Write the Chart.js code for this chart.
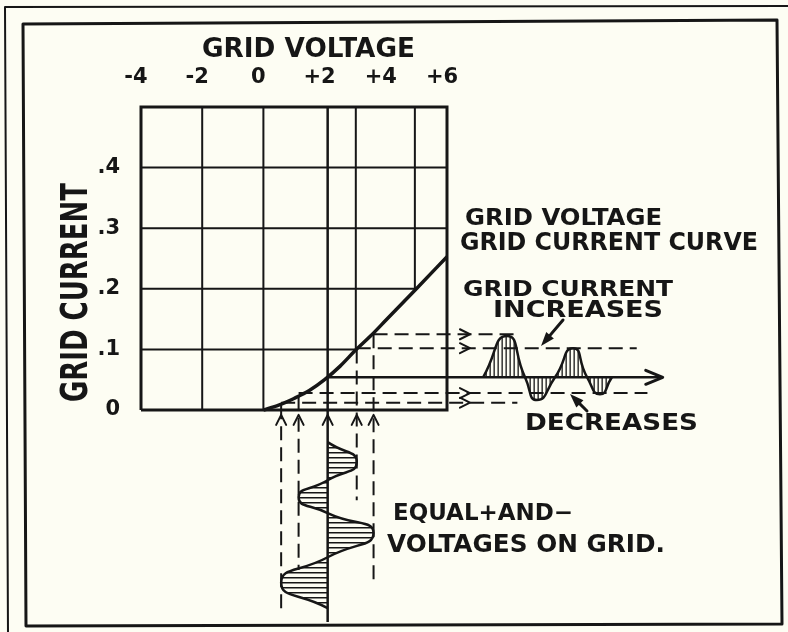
<!DOCTYPE html>
<html>
<head>
<meta charset="utf-8">
<title>Grid Voltage - Grid Current Curve</title>
<script src="https://cdn.jsdelivr.net/npm/chart.js@4.4.1/dist/chart.umd.min.js"></script>
<style>
    html, body { margin:0; padding:0; background:#fdfdf3; }
    #chartContainer { width:788px; height:632px; }
</style>
</head>
<body>
<div id="chartContainer"><canvas id="gridChart" width="788" height="632"></canvas></div>
<script>
// grid volts along x, grid current along y
const voltTicks = [-4, -2, 0, 2, 4, 6];
const currentTicks = [0, 0.1, 0.2, 0.3, 0.4, 0.5];

const curveVolts = [0, 0.5, 1, 1.5, 2, 2.5, 3, 3.5, 4, 5, 6];
const curveCurrent = [0, 0.008, 0.019, 0.032, 0.05, 0.072, 0.098, 0.122, 0.148, 0.2, 0.253];

// inner rules of the grid stop where they meet the curve
const ruleVolts = [-2, 0, 3.02, 4.95];
const ruleVoltsFrom = [0, 0, 0.099, 0.2];
const ruleCurrents = [0.1, 0.2, 0.3, 0.4];
const ruleCurrentsTo = [3.05, 5, 6, 6];

// operating point
const biasVolts = 2.1;
const biasCurrent = 0.054;
const signalAxisEnd = -0.35;
const currentAxisEnd = 13.05;

// signal on the grid, drawn downwards under the bias line
const signalVolts = [2.1, 3.05, 2.1, 1.15, 2.1, 3.6, 2.1, 0.58, 2.1];
const signalTime = [-0.053, -0.086, -0.116, -0.144, -0.17, -0.203, -0.243, -0.285, -0.327];

// grid current wave, drawn to the right
const waveTime = [7.18, 7.96, 8.55, 8.94, 9.53, 10.12, 10.58, 11.0, 11.39];
const waveCurrent = [0.054, 0.122, 0.054, 0.0165, 0.054, 0.102, 0.054, 0.026, 0.054];

// dashed projections: signal peaks up to the curve, curve across to the wave
const dropVolts = [0.58, 1.15, 3.05, 3.6];
const dropTop = [0.008, 0.022, 0.1, 0.125];
const dropBottom = [-0.338, -0.264, -0.149, -0.284];
const acrossCurrent = [0.125, 0.102, 0.028, 0.012];
const acrossFrom = [3.6, 3.05, 1.15, 0.58];
const acrossTo = [8.4, 12.2, 12.55, 8.3];

const ink = '#161616';
const fontFamily = '"DejaVu Sans", sans-serif';

document.addEventListener('DOMContentLoaded', createChart);

function pointsOf(xs, ys){
    return xs.map((x, i) => ({x: x, y: ys[i]}));
}

// list of [x1, y1, x2, y2] -> one broken polyline
function segmentsOf(list){
    let pts = [];
    list.forEach(s => {
        pts.push({x: s[0], y: s[1]}, {x: s[2], y: s[3]}, {x: null, y: null});
    });
    return pts;
}

function frameData(){
    let x0 = voltTicks[0], x1 = voltTicks[voltTicks.length - 1];
    let y0 = currentTicks[0], y1 = currentTicks[currentTicks.length - 1];
    return [{x: x0, y: y0}, {x: x1, y: y0}, {x: x1, y: y1}, {x: x0, y: y1}, {x: x0, y: y0}];
}

function rulesData(){
    let top = currentTicks[currentTicks.length - 1];
    let list = [];
    ruleVolts.forEach((v, i) => list.push([v, ruleVoltsFrom[i], v, top]));
    ruleCurrents.forEach((c, i) => list.push([voltTicks[0], c, ruleCurrentsTo[i], c]));
    return segmentsOf(list);
}

function biasData(){
    let top = currentTicks[currentTicks.length - 1];
    return segmentsOf([
        [biasVolts, top, biasVolts, signalAxisEnd],
        [biasVolts, biasCurrent, currentAxisEnd, biasCurrent]
    ]);
}

function projectionData(){
    let list = [];
    dropVolts.forEach((v, i) => list.push([v, dropTop[i], v, dropBottom[i]]));
    acrossCurrent.forEach((c, i) => list.push([acrossFrom[i], c, acrossTo[i], c]));
    return segmentsOf(list);
}

function createHatch(ctx, direction){
    let c = document.createElement('canvas');
    let pctx = c.getContext('2d');
    if (direction === 'h') {
        c.width = 8; c.height = 5;
        pctx.fillStyle = ink;
        pctx.fillRect(0, 2, 8, 1.5);
    } else {
        c.width = 4; c.height = 8;
        pctx.fillStyle = ink;
        pctx.fillRect(1.5, 0, 1.3, 8);
    }
    return ctx.createPattern(c, 'repeat');
}

function chevron(ctx, x, y, dir, half, len, width){
    ctx.lineWidth = width;
    ctx.beginPath();
    if (dir === 'up') {
        ctx.moveTo(x - half, y + len); ctx.lineTo(x, y); ctx.lineTo(x + half, y + len);
    } else {
        ctx.moveTo(x - len, y - half); ctx.lineTo(x, y); ctx.lineTo(x - len, y + half);
    }
    ctx.stroke();
}

function pointer(ctx, x1, y1, x2, y2){
    let a = Math.atan2(y2 - y1, x2 - x1);
    let c = Math.cos(a), s = Math.sin(a);
    ctx.lineWidth = 3;
    ctx.beginPath();
    ctx.moveTo(x1, y1);
    ctx.lineTo(x2 - 8 * c, y2 - 8 * s);
    ctx.stroke();
    ctx.beginPath();
    ctx.moveTo(x2, y2);
    ctx.lineTo(x2 - 14 * c + 5 * s, y2 - 14 * s - 5 * c);
    ctx.lineTo(x2 - 14 * c - 5 * s, y2 - 14 * s + 5 * c);
    ctx.closePath();
    ctx.fill();
}

// hand lettering: stretched or squeezed to the width it takes on the sheet
function letter(ctx, text, x, y, size, width, rotate){
    ctx.save();
    ctx.font = 'bold ' + size + 'px ' + fontFamily;
    ctx.textAlign = 'left';
    ctx.textBaseline = 'alphabetic';
    let w = ctx.measureText(text).width;
    ctx.translate(x, y);
    if (rotate) ctx.rotate(-Math.PI / 2);
    ctx.scale(width / w, 1);
    ctx.fillText(text, 0, 0);
    ctx.restore();
}

const hatchPlugin = {
    id: 'hatchFill',
    beforeDatasetsDraw(chart){
        let ctx = chart.ctx;
        chart.data.datasets.forEach((ds, i) => {
            if (!ds.hatch) return;
            let meta = chart.getDatasetMeta(i);
            let line = meta.dataset;
            line.updateControlPoints(chart.chartArea, meta.controller.options.indexAxis);
            ctx.save();
            ctx.beginPath();
            line.path(ctx);
            ctx.closePath();
            ctx.fillStyle = createHatch(ctx, ds.hatch);
            ctx.fill();
            ctx.restore();
        });
    }
};

const sheetPlugin = {
    id: 'sheet',
    afterDatasetsDraw(chart){
        let ctx = chart.ctx;
        let xs = chart.scales.x;
        let ys = chart.scales.y;
        ctx.save();
        ctx.strokeStyle = ink;
        ctx.fillStyle = ink;
        ctx.lineCap = 'round';
        ctx.lineJoin = 'round';

        // arrows
        let tipY = ys.getPixelForValue(-0.008);
        dropVolts.concat([biasVolts]).forEach(v => chevron(ctx, xs.getPixelForValue(v), tipY, 'up', 5, 10, 2));
        acrossCurrent.forEach(c => chevron(ctx, xs.getPixelForValue(6.75), ys.getPixelForValue(c), 'right', 5, 10, 2));
        chevron(ctx, xs.getPixelForValue(currentAxisEnd), ys.getPixelForValue(biasCurrent), 'right', 7, 17, 3);
        pointer(ctx, 563, 320, 541, 346);
        pointer(ctx, 587, 411, 570, 394);

        // lettering
        letter(ctx, 'GRID VOLTAGE', 202, 57, 26, 213);
        letter(ctx, 'GRID CURRENT', 87, 402, 37, 219, true);
        letter(ctx, 'GRID VOLTAGE', 465, 225, 23, 197);
        letter(ctx, 'GRID CURRENT CURVE', 460, 250, 24, 298);
        letter(ctx, 'GRID CURRENT', 463, 296, 22, 210);
        letter(ctx, 'INCREASES', 493, 317, 23, 170);
        letter(ctx, 'DECREASES', 525, 430, 23, 173);
        letter(ctx, 'EQUAL+AND\u2212', 393, 520, 23, 180);
        letter(ctx, 'VOLTAGES ON GRID.', 387, 552, 25, 278);

        // sheet border
        ctx.lineCap = 'butt';
        ctx.lineWidth = 3;
        ctx.beginPath();
        ctx.moveTo(23, 24); ctx.lineTo(777, 20); ctx.lineTo(782, 624); ctx.lineTo(26, 626);
        ctx.closePath();
        ctx.stroke();
        ctx.lineWidth = 2;
        ctx.beginPath();
        ctx.moveTo(788, 6); ctx.lineTo(5, 7); ctx.lineTo(8, 632);
        ctx.stroke();
        ctx.restore();
    }
};

function lineSet(data, width, extra){
    let ds = {
        data: data,
        borderColor: ink,
        borderWidth: width,
        pointRadius: 0,
        fill: false,
        tension: 0,
        clip: false,
        capBezierPoints: false
    };
    return Object.assign(ds, extra || {});
}

function createChart(){
    let ctx = document.getElementById('gridChart');
    let tickFont = {family: fontFamily, size: 21, weight: 'bold'};

    let datasets = [
        lineSet(rulesData(), 2),
        lineSet(projectionData(), 2, {borderDash: [14, 7]}),
        lineSet(biasData(), 2.5),
        lineSet(frameData(), 3),
        lineSet(pointsOf(curveVolts, curveCurrent), 3.5, {cubicInterpolationMode: 'monotone'}),
        lineSet(pointsOf(signalVolts, signalTime), 2.5, {tension: 0.62, hatch: 'h'}),
        lineSet(pointsOf(waveTime, waveCurrent), 2.5, {tension: 0.62, hatch: 'v'})
    ];

    let config = {
        type: 'line',
        data: {datasets: datasets},
        plugins: [hatchPlugin, sheetPlugin],
        options: {
            responsive: false,
            maintainAspectRatio: false,
            devicePixelRatio: 1,
            animation: false,
            events: [],
            layout: {padding: {left: 0, top: 0, right: 341, bottom: 222}},
            plugins: {
                legend: {display: false},
                tooltip: {enabled: false}
            },
            scales: {
                x: {
                    type: 'linear',
                    position: 'top',
                    grid: {display: false},
                    border: {display: false},
                    afterDataLimits: s => { s.min = voltTicks[0]; s.max = voltTicks[voltTicks.length - 1]; },
                    afterBuildTicks: s => {
                        s.ticks = voltTicks.map(v => ({value: v}));
                        s.min = voltTicks[0]; s.max = voltTicks[voltTicks.length - 1];
                    },
                    afterFit: s => { s.height = 107; },
                    ticks: {
                        color: ink,
                        font: tickFont,
                        padding: 9,
                        labelOffset: -5,
                        maxRotation: 0,
                        callback: v => (v > 0 ? '+' + v : String(v))
                    }
                },
                y: {
                    type: 'linear',
                    position: 'left',
                    grid: {display: false},
                    border: {display: false},
                    afterDataLimits: s => { s.min = currentTicks[0]; s.max = currentTicks[currentTicks.length - 1]; },
                    afterBuildTicks: s => {
                        s.ticks = currentTicks.map(v => ({value: v}));
                        s.min = currentTicks[0]; s.max = currentTicks[currentTicks.length - 1];
                    },
                    afterFit: s => { s.width = 141; },
                    ticks: {
                        color: ink,
                        font: tickFont,
                        padding: 13,
                        callback: v => {
                            if (v === 0) return '0';
                            if (v > 0.45) return '';
                            return '.' + Math.round(v * 10);
                        }
                    }
                }
            }
        }
    };
    new Chart(ctx, config);
}
</script>
</body>
</html>
